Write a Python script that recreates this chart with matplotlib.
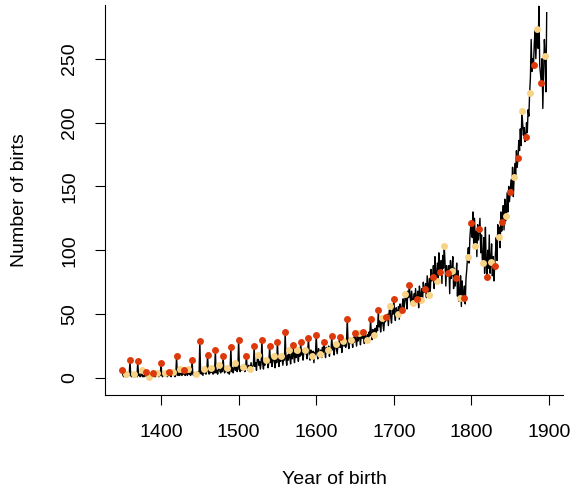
import matplotlib.pyplot as plt
import numpy as np

plt.rcParams['font.family'] = ['Liberation Sans', 'DejaVu Sans']

# births per year, one row per decade (1350..1897)
births_by_decade = [
    [6, 2, 1, 2, 1, 3, 2, 1, 3, 2],          # 1350
    [14, 2, 1, 3, 1, 3, 2, 1, 2, 1],         # 1360
    [13, 2, 3, 1, 2, 6, 1, 2, 1, 3],         # 1370
    [5, 1, 2, 1, 3, 1, 2, 3, 1, 2],          # 1380
    [4, 1, 2, 1, 3, 4, 2, 1, 3, 2],          # 1390
    [12, 2, 1, 3, 2, 4, 2, 3, 1, 2],         # 1400
    [5, 2, 3, 1, 4, 5, 2, 3, 1, 2],          # 1410
    [17, 3, 2, 4, 2, 7, 3, 2, 4, 3],         # 1420
    [6, 2, 4, 3, 2, 7, 3, 4, 2, 3],          # 1430
    [14, 3, 2, 4, 3, 3, 4, 2, 5, 3],         # 1440
    [29, 4, 3, 6, 2, 7, 4, 5, 3, 6],         # 1450
    [18, 5, 3, 6, 4, 8, 5, 3, 7, 4],         # 1460
    [22, 4, 6, 3, 7, 10, 5, 4, 8, 5],        # 1470
    [17, 6, 4, 8, 5, 8, 4, 7, 3, 6],         # 1480
    [24, 5, 8, 4, 7, 12, 6, 9, 5, 7],        # 1490
    [30, 7, 5, 9, 6, 9, 6, 10, 5, 8],        # 1500
    [17, 8, 6, 10, 7, 7, 12, 8, 9, 10],      # 1510
    [25, 9, 12, 6, 14, 18, 10, 13, 7, 12],   # 1520
    [30, 11, 7, 14, 10, 14, 12, 15, 8, 13],  # 1530
    [25, 12, 16, 9, 14, 17, 13, 8, 15, 12],
    [28, 14, 9, 16, 13, 17, 15, 10, 16, 14],
    [36, 15, 10, 18, 14, 22, 16, 11, 19, 15],
    [26, 17, 12, 20, 16, 22, 18, 13, 21, 17],
    [28, 18, 22, 14, 20, 22, 19, 23, 15, 21],
    [31, 19, 14, 22, 18, 17, 21, 12, 20, 18],
    [34, 20, 15, 23, 19, 19, 22, 16, 24, 20],  # 1600
    [28, 21, 16, 24, 20, 22, 25, 17, 23, 21],
    [33, 22, 26, 18, 24, 27, 23, 19, 26, 24],
    [32, 24, 28, 20, 26, 29, 25, 30, 24, 28],
    [46, 28, 23, 31, 27, 30, 29, 24, 32, 28],
    [35, 30, 25, 33, 29, 35, 32, 26, 34, 31],
    [36, 32, 27, 35, 31, 30, 34, 28, 36, 33],
    [46, 35, 30, 38, 34, 34, 39, 32, 41, 37],
    [53, 40, 45, 36, 43, 47, 42, 37, 46, 44],
    [48, 45, 50, 41, 52, 56, 48, 43, 53, 50],
    [62, 50, 45, 55, 52, 50, 56, 46, 58, 54],  # 1700
    [53, 58, 62, 52, 60, 66, 61, 54, 68, 63],
    [73, 64, 58, 68, 60, 59, 66, 60, 70, 61],
    [62, 68, 55, 72, 65, 61, 70, 60, 75, 67],
    [70, 74, 63, 80, 72, 65, 78, 68, 85, 76],
    [79, 88, 70, 95, 80, 76, 90, 78, 98, 85],
    [83, 92, 74, 96, 86, 103, 90, 72, 88, 80],
    [82, 88, 66, 92, 78, 84, 95, 70, 86, 72],
    [78, 90, 64, 84, 60, 63, 80, 56, 76, 65],
    [63, 72, 58, 78, 85, 95, 102, 90, 110, 118],
    [121, 110, 130, 102, 125, 103, 115, 95, 120, 108],  # 1800
    [117, 125, 98, 112, 93, 90, 110, 82, 118, 92],
    [79, 100, 86, 112, 82, 91, 105, 80, 95, 76],
    [88, 98, 110, 92, 120, 110, 118, 102, 130, 115],
    [122, 135, 116, 140, 123, 127, 145, 130, 150, 138],
    [146, 155, 148, 165, 142, 157, 168, 158, 178, 165],
    [172, 186, 178, 195, 182, 209, 200, 190, 196, 185],
    [189, 200, 192, 210, 205, 223, 235, 265, 240, 250],
    [245, 262, 272, 250, 268, 273, 258, 291, 245, 238],
    [231, 250, 211, 240, 265, 252, 224, 286],  # 1890
]

births = np.array([v for row in births_by_decade for v in row])
years = np.arange(1350, 1350 + len(births))

decade = years % 10 == 0
half = years % 10 == 5

fig = plt.figure(figsize=(5.73, 4.94), dpi=100)
ax = fig.add_axes([105 / 573, 1 - 395 / 494, 458 / 573, 390 / 494])

ax.plot(years, births, color="black", lw=1.0)
ax.plot(years[half], births[half], "o", color="#F8D385", ms=5, mec="none")
ax.plot(years[decade], births[decade], "o", color="#DC3A0B", ms=5, mec="none")

ax.set_xlim(1327.8, 1918)
ax.set_ylim(-13.3, 292)
ax.set_xticks(range(1400, 1901, 100))
ax.set_yticks(range(0, 251, 50))
ax.tick_params(axis="x", length=7.2, width=0.8, labelsize=14, pad=14)
ax.tick_params(axis="y", length=7.2, width=0.8, labelsize=14, pad=12, labelrotation=90)
for lbl in ax.get_yticklabels():
    lbl.set_va("center")
ax.spines["top"].set_visible(False)
ax.spines["right"].set_visible(False)
ax.spines["left"].set_linewidth(0.8)
ax.spines["bottom"].set_linewidth(0.8)

fig.text(334 / 573, 1 - 479 / 494, "Year of birth", ha="center", va="center", fontsize=14)
fig.text(20 / 573, 1 - 200 / 494, "Number of birts", ha="center", va="center",
         rotation=90, fontsize=14)

fig.savefig("out.png", dpi=100)
